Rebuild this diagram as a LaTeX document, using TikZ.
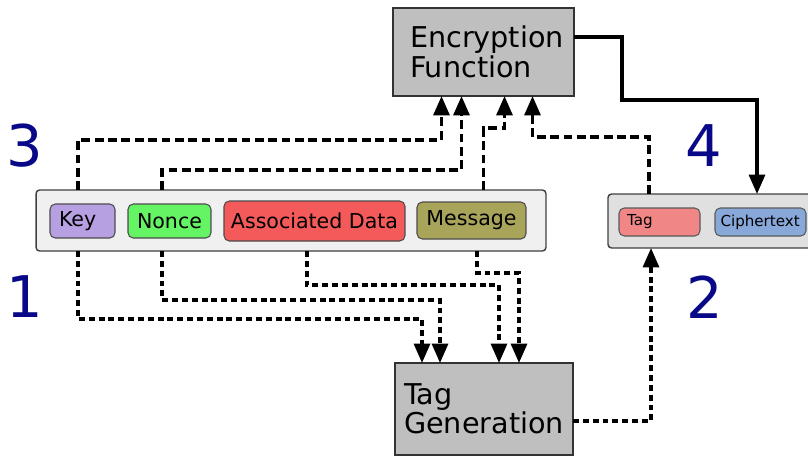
\documentclass[tikz,border=0pt]{standalone}
\usepackage{fontspec}
\setmainfont{DejaVu Sans}
\usetikzlibrary{calc,arrows.meta,positioning}

\definecolor{keyfill}{RGB}{183,160,226}
\definecolor{noncefill}{RGB}{100,244,100}
\definecolor{adfill}{RGB}{244,90,90}
\definecolor{msgfill}{RGB}{168,164,90}
\definecolor{tagfill}{RGB}{240,134,134}
\definecolor{ctfill}{RGB}{136,168,218}
\definecolor{stepnum}{RGB}{8,8,136}

\begin{document}
\begin{tikzpicture}[x=0.02cm,y=-0.02cm,
    every node/.style={inner sep=0pt,outer sep=0pt},
    bigbox/.style={draw=black!80,line width=0.8pt,fill=black!25,align=left,
      font=\fontsize{16.3}{14.4}\selectfont},
    holder/.style={draw=black!75,line width=0.8pt,rounded corners=2pt},
    field/.style={draw=black!70,line width=0.6pt,rounded corners=3pt,
      minimum height=0.68cm,font=\fontsize{11.7}{13}\selectfont},
    smallfield/.style={draw=black!65,line width=0.6pt,rounded corners=3pt,
      minimum height=0.56cm,align=left,font=\fontsize{8.6}{10}\selectfont},
    numlabel/.style={text=stepnum,font=\fontsize{32.7}{34}\selectfont},
    flowup/.style={line width=2pt,dash pattern=on 5pt off 2.6pt,
      -{Triangle[length=11pt,width=9pt]}},
    flowdown/.style={line width=2pt,dash pattern=on 3.4pt off 2.2pt,
      -{Triangle[length=11pt,width=9pt]}},
    flowout/.style={line width=2pt,-{Triangle[length=11pt,width=9pt]}}]
    \useasboundingbox (0,0) rectangle (808,457);

    % processing blocks
    \node[bigbox, minimum width=3.62cm, minimum height=1.76cm, inner xsep=0.34cm, text width=2.94cm] (enc) at (483.5,52) {Encryption\\Function};
    \node[bigbox, minimum width=3.56cm, minimum height=1.84cm] (taggen) at (484,409) {Tag\\Generation};

    % inputs
    \node[holder, fill=black!6, minimum width=10.2cm, minimum height=1.22cm] (inbox) at (291,220.5) {};
    \node[field, fill=keyfill, minimum width=1.3cm, inner xsep=0.18cm, text width=0.94cm, align=left] (key) at (82.5,221) {Key};
    \node[field, fill=noncefill, minimum width=1.66cm] (nonce) at (169.5,221) {Nonce};
    \node[field, fill=adfill, minimum width=3.62cm, minimum height=0.8cm] (ad) at (314.5,221) {Associated Data};
    \node[field, fill=msgfill, minimum width=2.18cm, minimum height=0.74cm] (msg) at (471.5,220.5) {Message};

    % outputs
    \node[holder, fill=black!12, minimum width=4.4cm, minimum height=1.08cm] (outbox) at (718,221) {};
    \node[smallfield, fill=tagfill, inner xsep=0.16cm, text width=1.3cm] (tag) at (659.5,222) {Tag};
    \node[smallfield, fill=ctfill, inner xsep=0.11cm, text width=1.6cm] (ct) at (760.5,222) {Ciphertext};

    % step numbers
    \node[numlabel] (n3) at (25,146) {3};
    \node[numlabel] (n1) at (25,297) {1};
    \node[numlabel] (n4) at (704,146) {4};
    \node[numlabel] (n2) at (705,297) {2};

    % into the encryption function
    \draw[flowup] ($(key.north |- inbox.north)+(-4.5,0)$) -- ++(0,-50) -| ($(enc.south)+(-42,0)$);
    \draw[flowup] ($(nonce.north |- inbox.north)+(-7.5,0)$) -- ++(0,-20) -| ($(enc.south)+(-22,0)$);
    \draw[flowup] ($(msg.north |- inbox.north)+(12,0)$) -- ++(0,-62) -| ($(enc.south)+(21,0)$);
    \draw[flowup] ($(tag.north |- outbox.north)+(-10.5,0)$) -- ++(0,-57) -| ($(enc.south)+(49,0)$);

    % ciphertext out
    \draw[flowout] ($(enc.east)+(0,-15)$) -- ++(48,0) -- ++(0,63) -| ($(ct.north |- outbox.north)+(-3.5,0)$);

    % into the tag generation
    \draw[flowdown] ($(key.south |- inbox.south)+(-4.5,0)$) -- ++(0,68) -| ($(taggen.north)+(-62,0)$);
    \draw[flowdown] ($(nonce.south |- inbox.south)+(-7.5,0)$) -- ++(0,49) -| ($(taggen.north)+(-44,0)$);
    \draw[flowdown] ($(ad.south |- inbox.south)+(-7.5,0)$) -- ++(0,34) -| ($(taggen.north)+(15,0)$);
    \draw[flowdown] ($(msg.south |- inbox.south)+(5.5,0)$) -- ++(0,22) -| ($(taggen.north)+(35,0)$);

    % tag out
    \draw[flowdown] ($(taggen.east)+(0,12)$) -| ($(tag.south |- outbox.south)+(-8.5,0)$);
\end{tikzpicture}
\end{document}
